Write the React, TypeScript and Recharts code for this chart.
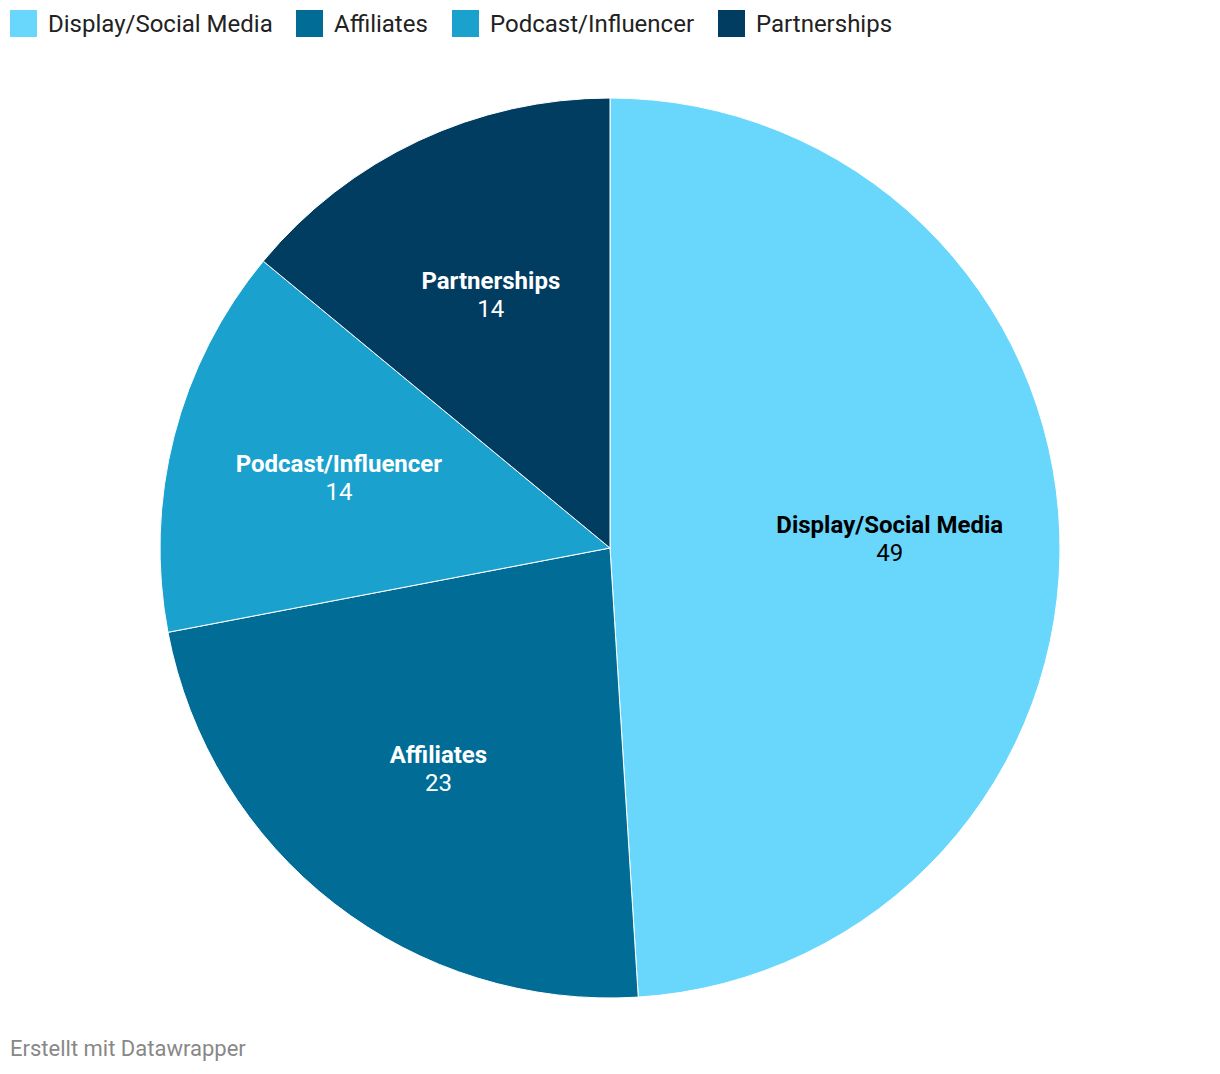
import React from "react";
import { PieChart, Pie, Cell } from "recharts";

const categories = ["Display/Social Media", "Affiliates", "Podcast/Influencer", "Partnerships"];
const values = [49, 23, 14, 14];
const colors = ["#69d6fc", "#016d96", "#1ba1ce", "#013c61"];
const labelColors = ["#000000", "#ffffff", "#ffffff", "#ffffff"];
const legendX = [10, 296, 452, 718];

const data = categories.map((name, i) => ({ name, value: values[i] }));

const RAD = Math.PI / 180;

const renderLabel = (props: any) => {
  const { cx, cy, midAngle, outerRadius, index } = props;
  const r = outerRadius * 0.622;
  const x = cx + r * Math.cos(-midAngle * RAD);
  const y = cy + r * Math.sin(-midAngle * RAD);
  const c = labelColors[index];
  return (
    <g>
      <text x={x} y={y - 14} textAnchor="middle" dominantBaseline="central" fill={c}
        style={{ fontFamily: "Roboto", fontWeight: 700, fontSize: 24 }}>
        {categories[index]}
      </text>
      <text x={x} y={y + 14} textAnchor="middle" dominantBaseline="central" fill={c}
        style={{ fontFamily: "Roboto", fontWeight: 400, fontSize: 24 }}>
        {values[index]}
      </text>
    </g>
  );
};

export default function App() {
  return (
    <div style={{ position: "absolute", left: 0, top: 0, width: 1220, height: 1074, background: "#fff", fontFamily: "Roboto" }}>
      {categories.map((c, i) => (
        <div key={c} style={{ position: "absolute", left: legendX[i], top: 10, height: 27, display: "flex", alignItems: "center" }}>
          <div style={{ width: 27, height: 27, background: colors[i] }} />
          <span style={{ marginLeft: 11, fontSize: 24, color: "#222", whiteSpace: "nowrap" }}>{c}</span>
        </div>
      ))}
      <PieChart width={1220} height={1074} margin={{ top: 0, right: 0, bottom: 0, left: 0 }} style={{ position: "absolute", left: 0, top: 0 }}>
        <Pie
          data={data}
          dataKey="value"
          nameKey="name"
          cx={610}
          cy={548}
          outerRadius={450}
          startAngle={90}
          endAngle={-270}
          stroke="#ffffff"
          strokeWidth={1}
          label={renderLabel}
          labelLine={false}
          isAnimationActive={false}
        >
          {data.map((d, i) => (
            <Cell key={d.name} fill={colors[i]} />
          ))}
        </Pie>
      </PieChart>
      <div style={{ position: "absolute", left: 10, top: 1036, fontSize: 22, color: "#888", whiteSpace: "nowrap" }}>Erstellt mit Datawrapper</div>
    </div>
  );
}
